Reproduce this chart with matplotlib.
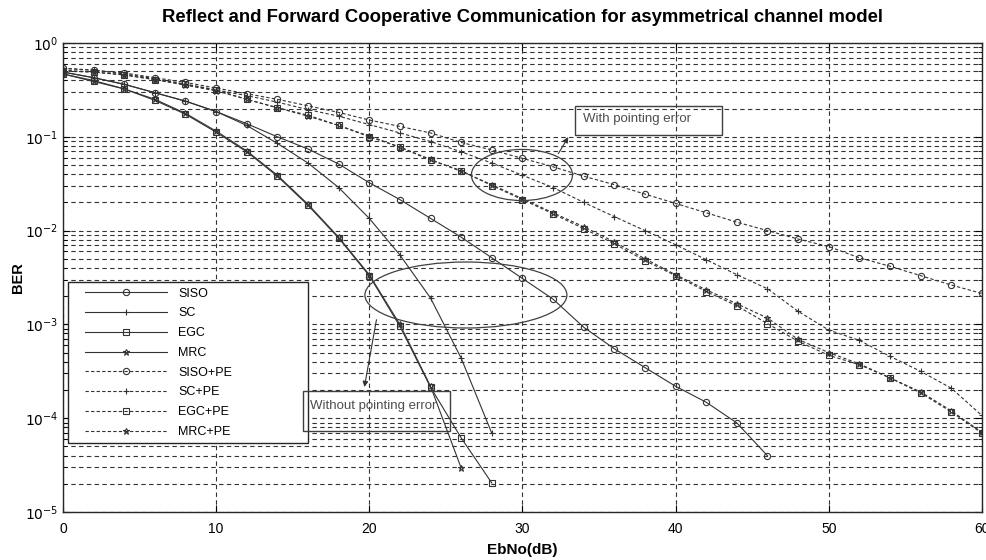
import matplotlib
matplotlib.use("Agg")
import matplotlib.pyplot as plt
from matplotlib.patches import Ellipse, Rectangle
import numpy as np

plt.rcParams['font.family'] = ['Liberation Sans', 'DejaVu Sans']

# Eb/No points (dB), one marker every 2 dB
snr = np.arange(0, 62, 2)

# BER, without pointing error
ber_siso = [0.490, 0.427, 0.363, 0.295, 0.240, 0.186, 0.138, 0.100, 0.0741, 0.0513,
            0.0324, 0.0214, 0.0135, 0.00851, 0.00513, 0.00309, 0.00186, 9.33e-4,
            5.50e-4, 3.47e-4, 2.19e-4, 1.48e-4, 8.91e-5, 3.98e-5]
ber_sc = [0.490, 0.427, 0.363, 0.295, 0.240, 0.186, 0.132, 0.0851, 0.0525, 0.0288,
          0.0135, 0.00550, 0.00191, 4.37e-4, 6.92e-5]
ber_egc = [0.468, 0.389, 0.324, 0.245, 0.174, 0.112, 0.0692, 0.0380, 0.0186, 0.00832,
           0.00331, 9.55e-4, 2.14e-4, 6.17e-5, 2.04e-5]
ber_mrc = [0.468, 0.398, 0.324, 0.251, 0.178, 0.115, 0.0708, 0.0389, 0.0191, 0.00851,
           0.00339, 1.0e-3, 2.19e-4, 2.95e-5]

# with pointing error
ber_siso_pe = [0.537, 0.513, 0.479, 0.427, 0.380, 0.331, 0.288, 0.251, 0.214, 0.182,
               0.151, 0.129, 0.110, 0.0871, 0.0724, 0.0589, 0.0479, 0.0380, 0.0309,
               0.0245, 0.0195, 0.0155, 0.0123, 0.0100, 0.00813, 0.00676, 0.00513,
               0.00417, 0.00331, 0.00263, 0.00214]
ber_sc_pe = [0.537, 0.513, 0.468, 0.417, 0.363, 0.316, 0.275, 0.234, 0.195, 0.166,
             0.135, 0.110, 0.0891, 0.0692, 0.0525, 0.0389, 0.0288, 0.0200, 0.0141,
             0.0100, 0.00708, 0.00490, 0.00339, 0.00240, 0.00138, 8.71e-4, 6.76e-4,
             4.57e-4, 3.16e-4, 2.09e-4, 1.07e-4]
ber_egc_pe = [0.501, 0.490, 0.457, 0.407, 0.363, 0.316, 0.251, 0.204, 0.170, 0.132,
              0.100, 0.0776, 0.0562, 0.0437, 0.0302, 0.0214, 0.0151, 0.0105, 0.00724,
              0.00479, 0.00331, 0.00224, 0.00158, 0.00102, 6.61e-4, 4.68e-4, 3.72e-4,
              2.69e-4, 1.86e-4, 1.17e-4, 6.92e-5]
ber_mrc_pe = [0.513, 0.490, 0.457, 0.407, 0.355, 0.309, 0.251, 0.204, 0.166, 0.132,
              0.102, 0.0776, 0.0575, 0.0427, 0.0309, 0.0219, 0.0155, 0.0110, 0.00759,
              0.00501, 0.00339, 0.00234, 0.00166, 0.00117, 6.92e-4, 5.01e-4, 3.80e-4,
              2.69e-4, 1.91e-4, 1.20e-4, 7.08e-5]

dash = (0, (3, 2))
series = [
  ("SISO", ber_siso, 'o', '-'),
  ("SC", ber_sc, '+', '-'),
  ("EGC", ber_egc, 's', '-'),
  ("MRC", ber_mrc, '*', '-'),
  ("SISO+PE", ber_siso_pe, 'o', dash),
  ("SC+PE", ber_sc_pe, '+', dash),
  ("EGC+PE", ber_egc_pe, 's', dash),
  ("MRC+PE", ber_mrc_pe, '*', dash),
]

fig = plt.figure(figsize=(9.87, 5.6), dpi=100)
ax = fig.add_axes([0.0638, 0.0857, 0.931, 0.8375])

col = '0.2'
for name, ber, mk, ls in series:
  ax.semilogy(snr[:len(ber)], ber, linestyle=ls, marker=mk, color=col, lw=0.8,
              ms=4.5 if mk != '*' else 5, mfc='none', mew=0.8, label=name)

ax.set_xlim(0, 60)
ax.set_ylim(1e-5, 1)
ax.set_xticks(range(0, 61, 10))
ax.set_yticks([10.0 ** k for k in range(-5, 1)])
ax.set_yticklabels([r'$10^{%d}$' % k for k in range(-5, 1)])

gstyle = dict(color='0.2', linestyle=(0, (4, 3)), linewidth=0.8)
ax.grid(True, which='major', **gstyle)
ax.grid(True, which='minor', axis='y', **gstyle)
ax.tick_params(which='both', direction='in', top=True, right=True, labelsize=10)
ax.tick_params(which='major', length=5)
ax.tick_params(which='minor', length=3)
ax.tick_params(axis='x', pad=7)
for s in ax.spines.values():
  s.set_color('0.15')
  s.set_linewidth(1.0)

ax.set_title("Reflect and Forward Cooperative Communication for asymmetrical channel model",
             fontsize=13.3, fontweight='bold', pad=15)
ax.set_xlabel("EbNo(dB)", fontsize=11, fontweight='bold', labelpad=5)
ax.set_ylabel("BER", fontsize=10.5, fontweight='bold', labelpad=0)

# legend: the frame is wider than its contents, so draw the frame by hand
ax.add_patch(Rectangle((0.0054, 0.1471), 0.2612, 0.3433, transform=ax.transAxes,
                       fc='white', ec='0.15', lw=1.0, zorder=4.5))
leg = ax.legend(loc='upper left', bbox_to_anchor=(0.0174, 0.4904), fontsize=9,
                handlelength=6.6, labelspacing=0.62, borderpad=0.45, handletextpad=0.9,
                frameon=False, borderaxespad=0)
leg.set_zorder(5)

# annotations: ellipses, arrows and text boxes
ax.add_patch(Ellipse((0.4995, 0.7186), 0.110, 0.109, transform=ax.transAxes,
                     fill=False, ec='0.25', lw=0.9, zorder=3))
ax.add_patch(Ellipse((0.4385, 0.4627), 0.2198, 0.1407, transform=ax.transAxes,
                     fill=False, ec='0.25', lw=0.9, zorder=3))

ax.add_patch(Rectangle((0.557, 0.8038), 0.16, 0.0618, transform=ax.transAxes,
                       fc='none', ec='0.25', lw=1.0, zorder=6))
ax.text(0.5658, 0.838, "With pointing error", transform=ax.transAxes, fontsize=9.5,
        color='0.3', va='center', ha='left', zorder=6)
ax.annotate("", xy=(0.5515, 0.8045), xycoords='axes fraction',
            xytext=(0.5375, 0.7591), textcoords='axes fraction',
            arrowprops=dict(arrowstyle='-|>', color='0.2', lw=0.8, mutation_scale=8))

ax.add_patch(Rectangle((0.2612, 0.1727), 0.16, 0.0853, transform=ax.transAxes,
                       fc='none', ec='0.25', lw=1.0, zorder=6))
ax.text(0.2688, 0.226, "Without pointing error", transform=ax.transAxes, fontsize=9.5,
        color='0.3', va='center', ha='left', zorder=6)
ax.annotate("", xy=(0.3275, 0.2608), xycoords='axes fraction',
            xytext=(0.3417, 0.4158), textcoords='axes fraction',
            arrowprops=dict(arrowstyle='-|>', color='0.2', lw=0.8, mutation_scale=8))

fig.savefig("out.png", dpi=100)
